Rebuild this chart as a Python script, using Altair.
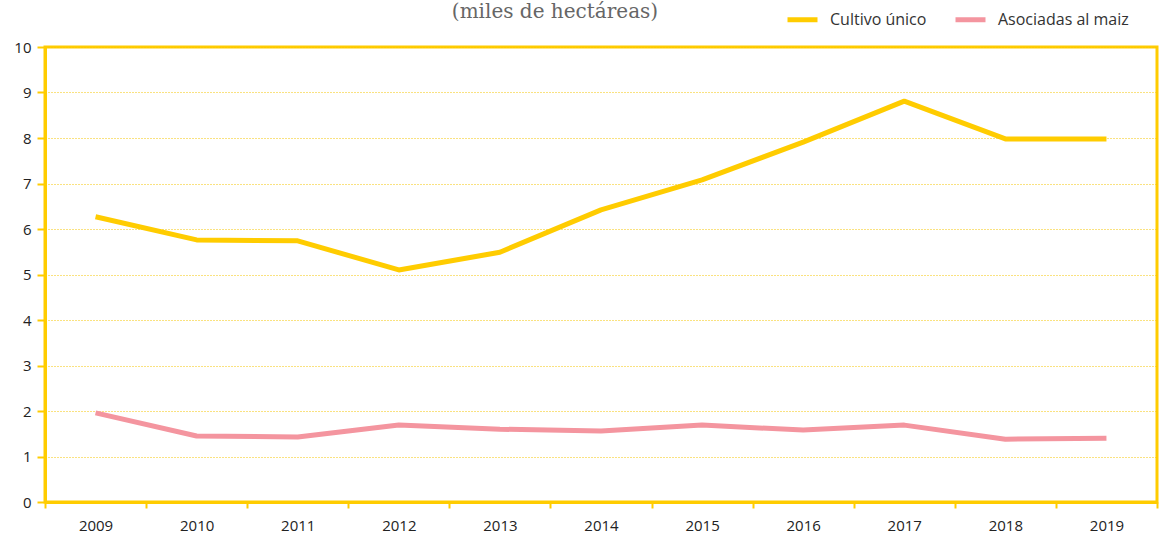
import altair as alt
import pandas as pd

years = [str(y) for y in range(2009, 2020)]
cultivo_unico = [6.27, 5.76, 5.74, 5.10, 5.49, 6.42, 7.08, 7.91, 8.81, 7.98, 7.98]
asociadas_maiz = [1.96, 1.45, 1.43, 1.69, 1.60, 1.56, 1.69, 1.58, 1.69, 1.38, 1.40]
series_names = ["Cultivo único", "Asociadas al maiz"]
series_colors = ["#FFCC00", "#F4959F"]

rows = []
for y, a, b in zip(years, cultivo_unico, asociadas_maiz):
    rows.append({"year": y, "serie": series_names[0], "value": a})
    rows.append({"year": y, "serie": series_names[1], "value": b})
df = pd.DataFrame(rows)

YELLOW = "#FFCC00"
FONT = "Open Sans"

chart = alt.Chart(df).mark_line(strokeWidth=5, strokeJoin="round").encode(
    x=alt.X("year:O", bandPosition=0.5,
            scale=alt.Scale(type="band", paddingInner=0, paddingOuter=0),
            axis=alt.Axis(title=None, tickBand="extent", labelAngle=0, grid=False,
                          domainColor=YELLOW, domainWidth=3, tickColor=YELLOW,
                          tickWidth=2, tickSize=6, labelPadding=10,
                          labelFontSize=15, labelColor="#222", labelFont=FONT)),
    y=alt.Y("value:Q", scale=alt.Scale(domain=[0, 10]),
            axis=alt.Axis(title=None, values=list(range(0, 11)),
                          grid=True, gridColor="#F5C400", gridDash=[1, 2], gridWidth=1,
                          domainColor=YELLOW, domainWidth=3, tickColor=YELLOW,
                          tickWidth=2, tickSize=8, labelPadding=6,
                          labelFontSize=15, labelColor="#222", labelFont=FONT)),
    color=alt.Color("serie:N",
                    scale=alt.Scale(domain=series_names, range=series_colors),
                    legend=alt.Legend(title=None, orient="none", legendX=740, legendY=-45,
                                      direction="horizontal", symbolType="stroke",
                                      symbolStrokeWidth=5, symbolSize=900,
                                      labelFontSize=16, labelFont=FONT, labelColor="#333",
                                      columnPadding=18, labelOffset=10)),
).properties(
    width=1112, height=455,
    title=alt.TitleParams("(miles de hectáreas)", font="DejaVu Serif", fontSize=20,
                          fontWeight="normal", color="#666", anchor="start",
                          dx=438, offset=14, dy=34),
    padding={"left": 45, "top": 47, "right": 3, "bottom": 39},
    autosize="none",
).configure_view(stroke=YELLOW, strokeWidth=3)

chart.save("out.html", embed_options={"renderer": "svg", "actions": False})
